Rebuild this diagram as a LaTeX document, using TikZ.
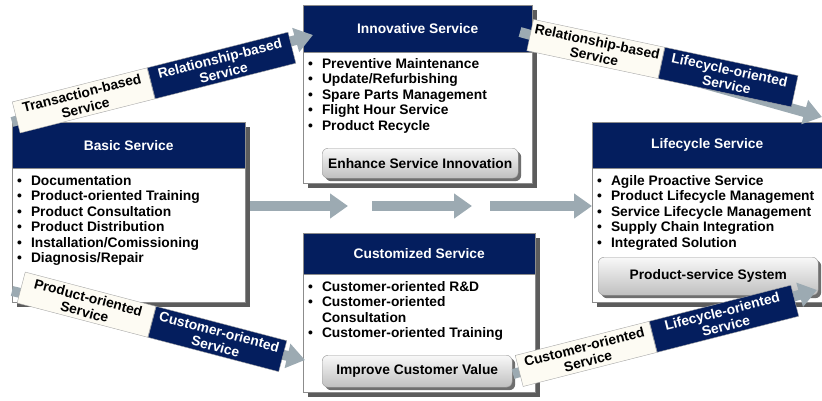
\documentclass[tikz,border=0pt]{standalone}
\usepackage{fontspec}
\setmainfont{Liberation Sans}
\usetikzlibrary{arrows.meta,positioning,shadows}

\definecolor{headnavy}{RGB}{4,30,94}
\definecolor{flowgray}{RGB}{156,170,178}
\definecolor{tagcream}{RGB}{253,251,243}
\definecolor{rimgray}{RGB}{140,140,140}

\newcommand{\svcfont}{\bfseries\fontsize{13.8}{15.5}\selectfont}
\newcommand{\svcitems}[1]{\begin{tabular}{@{}l@{\hspace{9pt}}l@{}}#1\end{tabular}}

\tikzset{
  svcbox/.style={draw=rimgray,fill=white,anchor=north west,inner sep=0pt,
    drop shadow={shadow xshift=5pt,shadow yshift=-5pt,fill=black!75,opacity=0.85}},
  svchead/.style={draw=rimgray,fill=headnavy,text=white,anchor=north west,inner sep=0pt,font=\svcfont},
  svclist/.style={inner sep=0pt,font=\svcfont,align=left},
  goalbtn/.style={draw=gray!80,rounded corners=6pt,top color=gray!5,bottom color=gray!50,
    inner sep=0pt,font=\svcfont,
    drop shadow={shadow xshift=3pt,shadow yshift=-3pt,fill=black!70,opacity=0.8}},
  flow/.style={draw=flowgray,line width=10pt,-{Triangle[length=18pt,width=24pt]}},
  tagold/.style={draw=gray!70,fill=tagcream,anchor=west,inner sep=0pt,minimum height=32pt,
    align=center,font=\bfseries\fontsize{13.8}{15}\selectfont},
  tagnew/.style={tagold,fill=headnavy,text=white},
}

\begin{document}
\begin{tikzpicture}[x=1pt,y=-1pt]
\useasboundingbox (0,0) rectangle (822,400);

% stages
\coordinate (m0) at (250,206);
\coordinate (m1) at (348,206);
\coordinate (m2a) at (372,206);
\coordinate (m2b) at (472,206);
\coordinate (m3a) at (490,206);
\draw[flow] (m0) -- (m1);
\draw[flow] (m2a) -- (m2b);

\node[svcbox,minimum width=233pt,minimum height=180pt] (basic) at (12,122) {};
\node[svchead,minimum width=233pt,minimum height=46pt] (basichd) at (basic.north west) {Basic Service};
\node[svclist,below right=6pt and 5pt of basichd.south west] (basiclst) {\svcitems{
  \textbullet & Documentation\\
  \textbullet & Product-oriented Training\\
  \textbullet & Product Consultation\\
  \textbullet & Product Distribution\\
  \textbullet & Installation/Comissioning\\
  \textbullet & Diagnosis/Repair}};

\node[svcbox,minimum width=229pt,minimum height=178pt] (innov) at (303,5) {};
\node[svchead,minimum width=229pt,minimum height=47pt] (innovhd) at (innov.north west) {Innovative Service};
\node[svclist,below right=5pt and 5pt of innovhd.south west] (innovlst) {\svcitems{
  \textbullet & Preventive Maintenance\\
  \textbullet & Update/Refurbishing\\
  \textbullet & Spare Parts Management\\
  \textbullet & Flight Hour Service\\
  \textbullet & Product Recycle}};
\node[goalbtn,minimum width=196pt,minimum height=30pt,above right=5pt and 19pt of innov.south west] (innovbtn) {Enhance Service Innovation};

\node[svcbox,minimum width=232pt,minimum height=159pt] (cust) at (303,233) {};
\node[svchead,minimum width=232pt,minimum height=41pt] (custhd) at (cust.north west) {Customized Service};
\node[svclist,below right=6pt and 5pt of custhd.south west] (custlst) {\svcitems{
  \textbullet & Customer-oriented R\&D\\
  \textbullet & Customer-oriented\\
              & Consultation\\
  \textbullet & Customer-oriented Training}};
\node[goalbtn,minimum width=190pt,minimum height=32pt,above right=5pt and 19pt of cust.south west] (custbtn) {Improve Customer Value};

\node[svcbox,minimum width=230pt,minimum height=180pt] (life) at (592,122) {};
\node[svchead,minimum width=230pt,minimum height=46pt] (lifehd) at (life.north west) {Lifecycle Service};
\node[svclist,below right=6pt and 5pt of lifehd.south west] (lifelst) {\svcitems{
  \textbullet & Agile Proactive Service\\
  \textbullet & Product Lifecycle Management\\
  \textbullet & Service Lifecycle Management\\
  \textbullet & Supply Chain Integration\\
  \textbullet & Integrated Solution}};
\node[goalbtn,minimum width=220pt,minimum height=38pt,above right=7pt and 6pt of life.south west] (lifebtn) {Product-service System};

\draw[flow] (m3a) -- (m3a -| life.west);

% transitions
\coordinate (tlE) at (313,35);
\coordinate (trS) at (520,32);
\coordinate (trE) at (822,117);
\coordinate (blS) at (12,291);
\coordinate (blE) at (305,360);
\coordinate (brS) at (513,374);
\coordinate (brE) at (817,290);
\draw[flow] (basic.north west) -- (tlE);
\draw[flow] (trS) -- (trE);
\draw[flow] (blS) -- (blE);
\draw[flow] (brS) -- (brE);

\node[tagold,minimum width=139pt,rotate=14.2] (tlold) at (16,117.5) {Transaction-based\\Service};
\node[tagnew,minimum width=145pt,rotate=14.2] (tlnew) at (tlold.east) {Relationship-based\\Service};

\node[tagold,minimum width=134pt,rotate=-12] (trold) at (530,35) {Relationship-based\\Service};
\node[tagnew,minimum width=136pt,rotate=-12] (trnew) at (trold.east) {Lifecycle-oriented\\Service};

\node[tagold,minimum width=135pt,rotate=-14.7] (blold) at (21,287.5) {Product-oriented\\Service};
\node[tagnew,minimum width=135pt,rotate=-14.7] (blnew) at (blold.east) {Customer-oriented\\Service};

\node[tagold,minimum width=138pt,rotate=14.3] (brold) at (519,371) {Customer-oriented\\Service};
\node[tagnew,minimum width=146pt,rotate=14.3] (brnew) at (brold.east) {Lifecycle-oriented\\Service};
\end{tikzpicture}
\end{document}
